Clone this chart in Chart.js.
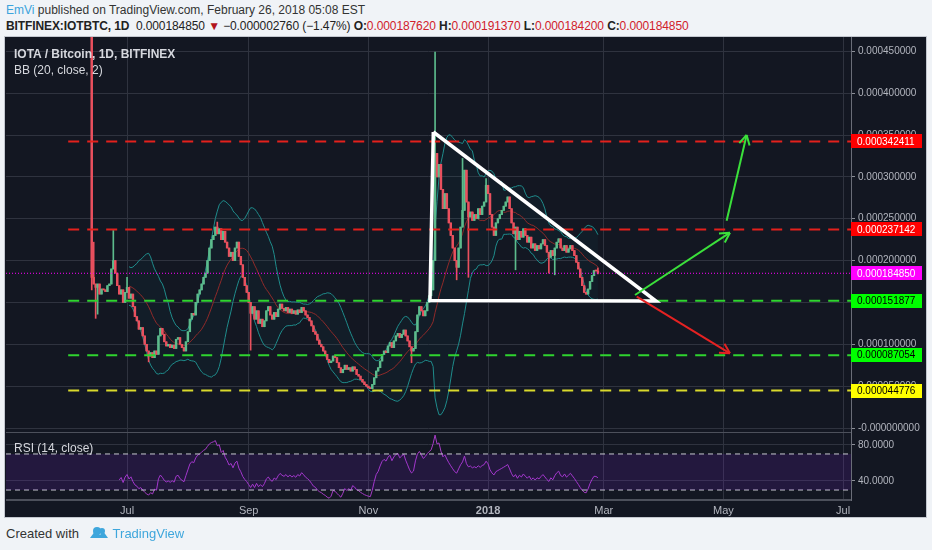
<!DOCTYPE html>
<html>
<head>
<meta charset="utf-8">
<script src="https://cdn.jsdelivr.net/npm/chart.js@4.4.1/dist/chart.umd.min.js"></script>
<style>
  body { margin:0; width:932px; height:550px; overflow:hidden; background:#f0f3f7; position:relative;
         font-family:"Liberation Sans", Arial, sans-serif; }
  #h1 { position:absolute; left:6px; top:3px; font-size:12px; color:#333; white-space:nowrap; }
  #h2 { position:absolute; left:6px; top:19px; font-size:12px; color:#222; white-space:nowrap; letter-spacing:-0.1px; }
  #h2 .r { color:#d0212b; }
  #frame { position:absolute; left:5px; top:37px; width:921px; height:480px; background:#131722;
           outline:1px solid #c3c7cf; }
  #main { position:absolute; left:1px; top:0; }
  #rsi { position:absolute; left:1px; top:396px; }
  .leg { position:absolute; left:9px; font-size:12px; color:#d6d8de; white-space:nowrap; }
  #foot { position:absolute; left:6px; top:526px; font-size:13px; color:#333; white-space:nowrap; }
  #foot .tv { color:#3ea6dc; }
</style>
</head>
<body>
<div id="h1"><span style="color:#3ba4dc">EmVi</span> published on TradingView.com, February 26, 2018 05:08 EST</div>
<div id="h2"><b>BITFINEX:IOTBTC, 1D</b>&nbsp; 0.000184850 <span style="color:#b3141c">&#9660;</span> &minus;0.000002760 (&minus;1.47%) <b>O:</b><span class="r">0.000187620</span> <b>H:</b><span class="r">0.000191370</span> <b>L:</b><span class="r">0.000184200</span> <b>C:</b><span class="r">0.000184850</span></div>

<div id="frame">
  <canvas id="main" width="920" height="396"></canvas>
  <canvas id="rsi" width="920" height="84"></canvas>
  <div class="leg" style="top:10px;font-weight:bold">IOTA / Bitcoin, 1D, BITFINEX</div>
  <div class="leg" style="top:26px">BB (20, close, 2)</div>
  <div class="leg" style="top:404px">RSI (14, close)</div>
</div>

<div id="foot">Created with
  <svg width="20" height="14" viewBox="0 0 20 14" style="vertical-align:-2px;margin:0 4px 0 6px">
    <path d="M1 12 L7 4 L11 9 L14 5 L19 12 Z" fill="#3ea6dc"/>
    <circle cx="8" cy="5" r="4" fill="#3ea6dc"/><circle cx="13" cy="5" r="3" fill="#3ea6dc"/>
  </svg><span class="tv">TradingView</span></div>

<script>
// daily closes from 2017-06-13, in micro-BTC (1e-6 BTC)
const UNIT = 1e-6;
const startDate = '2017-06-13';
const closeMicro = [
  180, 172, 168, 172, 160, 166, 165, 163, 170, 172,
  190, 200, 185, 170, 160, 165, 150, 162, 168, 155,
  160, 145, 133, 128, 118, 120, 110, 100, 92, 86,
  90, 84, 92, 88, 110, 119, 112, 103, 98, 100,
  96, 99, 95, 106, 108, 100, 96, 92, 103, 115,
  130, 137, 135, 150, 160, 165, 172, 180, 185, 200,
  215, 225, 230, 240, 232, 238, 225, 235, 222, 215,
  205, 210, 200, 215, 222, 205, 195, 180, 170, 162,
  150, 137, 145, 130, 140, 125, 130, 121, 128, 140,
  145, 135, 130, 138, 133, 142, 148, 143, 140, 144,
  138, 142, 137, 140, 136, 141, 138, 144, 140, 135,
  132, 128, 122, 115, 112, 105, 100, 97, 92, 88,
  82, 78, 80, 86, 84, 78, 72, 66, 70, 75,
  70, 72, 68, 73, 70, 64, 62, 58, 55, 52,
  50, 48, 47, 52, 60, 68, 72, 80, 88, 92,
  90, 98, 102, 96, 104, 110, 113, 108, 112, 117,
  110, 104, 97, 92, 95, 115, 135, 145, 140, 134,
  140, 150, 158, 165, 200, 328, 300, 315, 285, 262,
  280, 262, 245, 230, 215, 200, 192, 215, 240, 260,
  308, 270, 252, 258, 248, 255, 250, 262, 255, 265,
  270, 290, 280, 255, 240, 230, 245, 250, 255, 260,
  265, 270, 276, 262, 245, 232, 240, 225, 235, 228,
  238, 230, 222, 228, 215, 220, 212, 218, 214, 220,
  225, 218, 210, 204, 212, 206, 215, 222, 226, 215,
  212, 218, 210, 214, 218, 212, 206, 198, 190, 180,
  170, 162, 160, 166, 175, 182, 188, 187.62, 184.85
];
const firstOpenMicro = 560;
// notable wicks [day index, value]
const highWicksMicro = [[0, 600], [1, 222], [11, 236], [18, 180], [64, 246], [175, 449], [189, 322], [201, 298], [258, 191.37]];
const lowWicksMicro = [[0, 165], [2, 131], [3, 136], [29, 79], [81, 93], [163, 78], [186, 177], [192, 180],
                       [216, 189], [233, 185], [236, 183], [258, 184.2]];

const levelPrices = [0.000342411, 0.000237142, 0.000151877, 0.000087054, 0.000044776];
const levelLineColors = ['#e3211c', '#e3211c', '#2fd42f', '#2fd42f', '#d9d92c'];
const levelBoxColors = ['#ff0000', '#ff0000', '#00ff00', '#00ff00', '#ffff00'];
const levelTextColors = ['#ffffff', '#ffffff', '#000000', '#000000', '#000000'];
const levelStartDay = -12;
const lastPrice = 0.00018485;

const priceTicks = [0, 0.00005, 0.0001, 0.00015, 0.0002, 0.00025, 0.0003, 0.00035, 0.0004, 0.00045];
const rsiTicks = [40, 80];
const rsiBandLevels = [70, 30];
const monthTickDates = ['2017-07-01', '2017-09-01', '2017-11-01', '2018-01-01', '2018-03-01', '2018-05-01', '2018-07-01'];
const monthTickLabels = ['Jul', 'Sep', 'Nov', '2018', 'Mar', 'May', 'Jul'];

// drawings: triangle and arrows, in (day index, micro-BTC)
const triangleDays = [174.1, 172.4, 287.6, 174.1];
const trianglePricesMicro = [353.6, 152.3, 151.7, 353.6];
const arrowDays = [[276.9, 325.3], [323.6, 333.8], [277.8, 325.3]];
const arrowPricesMicro = [[158.9, 233.3], [247.7, 350.1], [156.9, 89.2]];
const arrowColors = ['#3be03b', '#3be03b', '#e52222'];

// visible window
const viewDays = [-43.7, 387];
const viewPrice = [-0.00000597, 0.0004671];
const viewRsi = [18.9, 93.3];

const UP = '#5cbb8c', DOWN = '#e9505e', GRID = '#2f333f', AXIS_TEXT = '#b2b5be';
Chart.defaults.font.family = '"Liberation Sans", Arial, sans-serif';

const dayOf = d => (Date.parse(d) - Date.parse(startDate)) / 86400000;
const monthTickDays = monthTickDates.map(dayOf);

const n = closeMicro.length;
const closes = closeMicro.map(v => v * UNIT);
const opens = closes.map((c, i) => i === 0 ? firstOpenMicro * UNIT : closes[i - 1]);
const highs = closes.map((c, i) => Math.max(c, opens[i]));
const lows = closes.map((c, i) => Math.min(c, opens[i]));
highWicksMicro.forEach(([i, v]) => highs[i] = v * UNIT);
lowWicksMicro.forEach(([i, v]) => lows[i] = v * UNIT);

const candleColor = ctx => closes[ctx.dataIndex] >= opens[ctx.dataIndex] ? UP : DOWN;

// Bollinger (20, 2)
const bbMid = [], bbUp = [], bbLo = [];
for (let i = 19; i < n; i++) {
  const w = closes.slice(i - 19, i + 1);
  const m = w.reduce((a, b) => a + b, 0) / 20;
  const sd = Math.sqrt(w.reduce((a, b) => a + (b - m) ** 2, 0) / 20);
  bbMid.push({x: i, y: m});
  bbUp.push({x: i, y: m + 2 * sd});
  bbLo.push({x: i, y: m - 2 * sd});
}

// RSI 14
const rsi = [];
let ag = 0, al = 0;
for (let i = 1; i < n; i++) {
  const d = closes[i] - closes[i - 1];
  const g = Math.max(d, 0), l = Math.max(-d, 0);
  if (i <= 14) { ag += g / 14; al += l / 14; }
  else { ag = (ag * 13 + g) / 14; al = (al * 13 + l) / 14; }
  if (i >= 14) rsi.push({x: i, y: al === 0 ? 100 : 100 - 100 / (1 + ag / al)});
}

const flatLine = (y) => [{x: viewDays[0], y}, {x: viewDays[1], y}];

const levelSets = levelPrices.map((p, k) => ({
  type: 'line', data: [{x: levelStartDay, y: p}, {x: viewDays[1], y: p}],
  borderColor: levelLineColors[k], borderWidth: 2, borderDash: [11, 8], pointRadius: 0, order: 5
}));

const arrowSets = arrowDays.map((d, k) => ({
  type: 'line', data: d.map((x, j) => ({x, y: arrowPricesMicro[k][j] * UNIT})),
  borderColor: arrowColors[k], borderWidth: 2, pointRadius: 0, order: 1, arrowHead: true
}));

const arrowHeads = {
  id: 'arrowHeads',
  afterDatasetsDraw(chart) {
    const ctx = chart.ctx;
    chart.data.datasets.forEach((ds, i) => {
      if (!ds.arrowHead) return;
      const pts = chart.getDatasetMeta(i).data;
      const a = pts[pts.length - 2], b = pts[pts.length - 1];
      const ang = Math.atan2(b.y - a.y, b.x - a.x);
      ctx.save();
      ctx.strokeStyle = ds.borderColor;
      ctx.lineWidth = 2;
      ctx.beginPath();
      [-0.5, 0.5].forEach(o => {
        ctx.moveTo(b.x, b.y);
        ctx.lineTo(b.x - 11 * Math.cos(ang + o), b.y - 11 * Math.sin(ang + o));
      });
      ctx.stroke();
      ctx.restore();
    });
  }
};

const priceLabels = {
  id: 'priceLabels',
  afterDraw(chart) {
    const ctx = chart.ctx, y = chart.scales.y, left = chart.chartArea.right;
    const boxes = levelPrices.map((p, k) => [p, levelBoxColors[k], levelTextColors[k]]);
    boxes.push([lastPrice, '#ff00ff', '#ffffff']);
    ctx.save();
    ctx.font = '10px "Liberation Sans", Arial, sans-serif';
    ctx.textBaseline = 'middle';
    boxes.forEach(([p, bg, fg]) => {
      const py = y.getPixelForValue(p);
      ctx.fillStyle = bg;
      ctx.fillRect(left, Math.round(py) - 7, 71, 14);
      ctx.fillStyle = fg;
      ctx.fillText(p.toFixed(9), left + 6, py + 0.5);
    });
    ctx.restore();
  }
};

const xScale = (showLabels) => ({
  type: 'linear', min: viewDays[0], max: viewDays[1], offset: false,
  afterBuildTicks: s => { s.ticks = monthTickDays.map(v => ({value: v})); },
  ticks: {
    display: showLabels, color: AXIS_TEXT, padding: 4, autoSkip: false, maxRotation: 0,
    callback: (v, i) => monthTickLabels[i],
    font: ctx => ({size: 11, weight: monthTickLabels[ctx.index] === '2018' ? 'bold' : 'normal'})
  },
  grid: {color: GRID, drawTicks: false, offset: false},
  border: {display: true, color: '#4c505b', width: 2},
  afterFit: s => { s.height = showLabels ? 17 : 0; s.paddingLeft = 0; s.paddingRight = 0; }
});

const yScale = (min, max, ticks, fmt) => ({
  type: 'linear', position: 'right', min, max,
  afterBuildTicks: s => { s.ticks = ticks.map(v => ({value: v})); },
  ticks: {color: AXIS_TEXT, font: {size: 10}, padding: 3, autoSkip: false, callback: fmt},
  grid: {color: GRID, tickLength: 4, tickColor: '#8b8e97'},
  border: {color: '#6a6d78'},
  afterFit: s => { s.width = 75; s.paddingTop = 0; s.paddingBottom = 0; }
});

new Chart(document.getElementById('main'), {
  type: 'bar',
  data: {
    datasets: [
      {type: 'line', data: bbUp, borderColor: '#1f8c8c', borderWidth: 1, pointRadius: 0,
       fill: '+1', backgroundColor: 'rgba(25,135,135,0.06)', order: 20},
      {type: 'line', data: bbLo, borderColor: '#1f8c8c', borderWidth: 1, pointRadius: 0, fill: false, order: 19},
      {type: 'line', data: bbMid, borderColor: '#8f2a2a', borderWidth: 1, pointRadius: 0, order: 18},
      {type: 'bar', data: closes.map((c, i) => ({x: i, y: [lows[i], highs[i]]})),
       backgroundColor: candleColor, barThickness: 1, grouped: false, order: 11},
      {type: 'bar', data: closes.map((c, i) => ({x: i, y: [opens[i], c]})),
       backgroundColor: candleColor, barThickness: 1.8, minBarLength: 1, grouped: false, order: 10},
      ...levelSets,
      {type: 'line', data: flatLine(lastPrice), borderColor: '#ff00ff', borderWidth: 1,
       borderDash: [1, 2], pointRadius: 0, order: 6},
      {type: 'line', data: triangleDays.map((x, j) => ({x, y: trianglePricesMicro[j] * UNIT})),
       borderColor: '#ffffff', borderWidth: 3.5, pointRadius: 0, order: 2},
      ...arrowSets
    ]
  },
  options: {
    responsive: false, animation: false,
    layout: {padding: 0},
    plugins: {legend: {display: false}, tooltip: {enabled: false}},
    scales: {
      x: xScale(false),
      y: yScale(viewPrice[0], viewPrice[1], priceTicks, v => v === 0 ? '-0.000000000' : v.toFixed(9))
    }
  },
  plugins: [arrowHeads, priceLabels]
});

new Chart(document.getElementById('rsi'), {
  type: 'line',
  data: {
    datasets: [
      {data: flatLine(rsiBandLevels[0]), borderColor: '#c8cad0', borderWidth: 1, borderDash: [5, 4],
       pointRadius: 0, fill: '+1', backgroundColor: 'rgba(150,30,255,0.13)'},
      {data: flatLine(rsiBandLevels[1]), borderColor: '#c8cad0', borderWidth: 1, borderDash: [5, 4],
       pointRadius: 0, fill: false},
      {data: rsi, borderColor: '#a63cc6', borderWidth: 1, pointRadius: 0, fill: false}
    ]
  },
  options: {
    responsive: false, animation: false,
    layout: {padding: 0},
    plugins: {legend: {display: false}, tooltip: {enabled: false}},
    scales: {
      x: xScale(true),
      y: yScale(viewRsi[0], viewRsi[1], rsiTicks, v => v.toFixed(4))
    }
  }
});
</script>
</body>
</html>
